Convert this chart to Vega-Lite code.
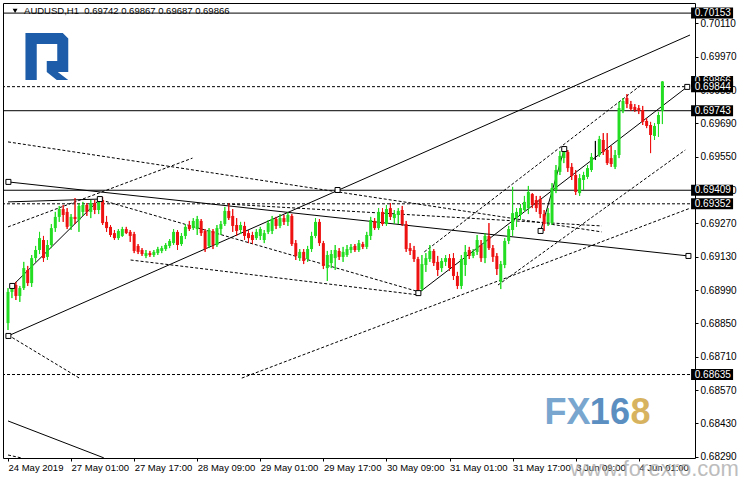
{
"$schema": "https://vega.github.io/schema/vega-lite/v6.json",
"width": 692, "height": 455,
"autosize": "none",
"padding": {"left": 3, "top": 3, "right": 45, "bottom": 22},
"background": "white",
"config": {"view": {"stroke": "black", "strokeWidth": 1}, "font": "Liberation Sans",
 "axis": {"labelOverlap": false, "labelSeparation": 0, "labelBound": false, "labelFlush": false},
 "axisY": {"labelOverlap": false}, "axisX": {"labelOverlap": false}},
"datasets": {
"candles": [
{"i":0,"o":0.68851,"h":0.68998,"l":0.68822,"c":0.68982},
{"i":1,"o":0.68982,"h":0.69019,"l":0.68956,"c":0.69003},
{"i":2,"o":0.69011,"h":0.69024,"l":0.68948,"c":0.68965},
{"i":3,"o":0.68965,"h":0.69007,"l":0.68940,"c":0.68998},
{"i":4,"o":0.68998,"h":0.69108,"l":0.68990,"c":0.69082},
{"i":5,"o":0.69074,"h":0.69091,"l":0.69007,"c":0.69019},
{"i":6,"o":0.69019,"h":0.69137,"l":0.69003,"c":0.69124},
{"i":7,"o":0.69124,"h":0.69175,"l":0.69108,"c":0.69158},
{"i":8,"o":0.69158,"h":0.69234,"l":0.69141,"c":0.69208},
{"i":9,"o":0.69200,"h":0.69217,"l":0.69108,"c":0.69124},
{"i":10,"o":0.69129,"h":0.69200,"l":0.69116,"c":0.69179},
{"i":11,"o":0.69179,"h":0.69267,"l":0.69166,"c":0.69250},
{"i":12,"o":0.69250,"h":0.69318,"l":0.69234,"c":0.69297},
{"i":13,"o":0.69297,"h":0.69343,"l":0.69276,"c":0.69330},
{"i":14,"o":0.69330,"h":0.69347,"l":0.69276,"c":0.69305},
{"i":15,"o":0.69318,"h":0.69334,"l":0.69246,"c":0.69255},
{"i":16,"o":0.69259,"h":0.69309,"l":0.69242,"c":0.69297},
{"i":17,"o":0.69297,"h":0.69376,"l":0.69267,"c":0.69288},
{"i":18,"o":0.69284,"h":0.69355,"l":0.69234,"c":0.69343},
{"i":19,"o":0.69318,"h":0.69360,"l":0.69301,"c":0.69347},
{"i":20,"o":0.69347,"h":0.69355,"l":0.69301,"c":0.69318},
{"i":21,"o":0.69318,"h":0.69368,"l":0.69292,"c":0.69355},
{"i":22,"o":0.69355,"h":0.69368,"l":0.69309,"c":0.69326},
{"i":23,"o":0.69326,"h":0.69385,"l":0.69309,"c":0.69372},
{"i":24,"o":0.69368,"h":0.69381,"l":0.69263,"c":0.69271},
{"i":25,"o":0.69276,"h":0.69301,"l":0.69234,"c":0.69250},
{"i":26,"o":0.69255,"h":0.69263,"l":0.69213,"c":0.69221},
{"i":27,"o":0.69229,"h":0.69242,"l":0.69200,"c":0.69208},
{"i":28,"o":0.69208,"h":0.69246,"l":0.69200,"c":0.69238},
{"i":29,"o":0.69217,"h":0.69255,"l":0.69213,"c":0.69246},
{"i":30,"o":0.69246,"h":0.69255,"l":0.69225,"c":0.69229},
{"i":31,"o":0.69234,"h":0.69242,"l":0.69192,"c":0.69217},
{"i":32,"o":0.69225,"h":0.69234,"l":0.69145,"c":0.69154},
{"i":33,"o":0.69175,"h":0.69183,"l":0.69141,"c":0.69150},
{"i":34,"o":0.69158,"h":0.69166,"l":0.69133,"c":0.69141},
{"i":35,"o":0.69133,"h":0.69158,"l":0.69124,"c":0.69145},
{"i":36,"o":0.69145,"h":0.69154,"l":0.69129,"c":0.69137},
{"i":37,"o":0.69137,"h":0.69158,"l":0.69129,"c":0.69150},
{"i":38,"o":0.69145,"h":0.69171,"l":0.69137,"c":0.69162},
{"i":39,"o":0.69154,"h":0.69175,"l":0.69145,"c":0.69166},
{"i":40,"o":0.69162,"h":0.69187,"l":0.69154,"c":0.69179},
{"i":41,"o":0.69175,"h":0.69204,"l":0.69166,"c":0.69196},
{"i":42,"o":0.69187,"h":0.69246,"l":0.69179,"c":0.69234},
{"i":43,"o":0.69234,"h":0.69242,"l":0.69158,"c":0.69179},
{"i":44,"o":0.69183,"h":0.69229,"l":0.69175,"c":0.69217},
{"i":45,"o":0.69217,"h":0.69267,"l":0.69204,"c":0.69255},
{"i":46,"o":0.69263,"h":0.69280,"l":0.69238,"c":0.69246},
{"i":47,"o":0.69250,"h":0.69292,"l":0.69242,"c":0.69280},
{"i":48,"o":0.69246,"h":0.69301,"l":0.69221,"c":0.69288},
{"i":49,"o":0.69280,"h":0.69288,"l":0.69217,"c":0.69229},
{"i":50,"o":0.69238,"h":0.69246,"l":0.69150,"c":0.69162},
{"i":51,"o":0.69175,"h":0.69250,"l":0.69166,"c":0.69242},
{"i":52,"o":0.69238,"h":0.69246,"l":0.69162,"c":0.69179},
{"i":53,"o":0.69179,"h":0.69263,"l":0.69171,"c":0.69250},
{"i":54,"o":0.69246,"h":0.69280,"l":0.69221,"c":0.69267},
{"i":55,"o":0.69267,"h":0.69339,"l":0.69259,"c":0.69322},
{"i":56,"o":0.69322,"h":0.69355,"l":0.69284,"c":0.69292},
{"i":57,"o":0.69301,"h":0.69330,"l":0.69234,"c":0.69259},
{"i":58,"o":0.69263,"h":0.69292,"l":0.69217,"c":0.69238},
{"i":59,"o":0.69242,"h":0.69276,"l":0.69225,"c":0.69263},
{"i":60,"o":0.69259,"h":0.69276,"l":0.69200,"c":0.69217},
{"i":61,"o":0.69229,"h":0.69242,"l":0.69187,"c":0.69208},
{"i":62,"o":0.69221,"h":0.69234,"l":0.69183,"c":0.69200},
{"i":63,"o":0.69208,"h":0.69246,"l":0.69200,"c":0.69234},
{"i":64,"o":0.69217,"h":0.69255,"l":0.69200,"c":0.69246},
{"i":65,"o":0.69200,"h":0.69242,"l":0.69187,"c":0.69229},
{"i":66,"o":0.69234,"h":0.69284,"l":0.69225,"c":0.69271},
{"i":67,"o":0.69238,"h":0.69301,"l":0.69225,"c":0.69288},
{"i":68,"o":0.69288,"h":0.69297,"l":0.69246,"c":0.69259},
{"i":69,"o":0.69259,"h":0.69309,"l":0.69250,"c":0.69292},
{"i":70,"o":0.69292,"h":0.69305,"l":0.69263,"c":0.69276},
{"i":71,"o":0.69276,"h":0.69318,"l":0.69259,"c":0.69305},
{"i":72,"o":0.69301,"h":0.69309,"l":0.69175,"c":0.69183},
{"i":73,"o":0.69187,"h":0.69200,"l":0.69116,"c":0.69133},
{"i":74,"o":0.69124,"h":0.69162,"l":0.69112,"c":0.69150},
{"i":75,"o":0.69150,"h":0.69162,"l":0.69099,"c":0.69112},
{"i":76,"o":0.69120,"h":0.69175,"l":0.69108,"c":0.69162},
{"i":77,"o":0.69162,"h":0.69234,"l":0.69150,"c":0.69217},
{"i":78,"o":0.69217,"h":0.69292,"l":0.69208,"c":0.69276},
{"i":79,"o":0.69276,"h":0.69288,"l":0.69175,"c":0.69187},
{"i":80,"o":0.69187,"h":0.69196,"l":0.69078,"c":0.69091},
{"i":81,"o":0.69082,"h":0.69154,"l":0.69028,"c":0.69137},
{"i":82,"o":0.69103,"h":0.69158,"l":0.69082,"c":0.69141},
{"i":83,"o":0.69124,"h":0.69179,"l":0.69074,"c":0.69158},
{"i":84,"o":0.69154,"h":0.69166,"l":0.69116,"c":0.69129},
{"i":85,"o":0.69129,"h":0.69171,"l":0.69108,"c":0.69150},
{"i":86,"o":0.69137,"h":0.69179,"l":0.69129,"c":0.69162},
{"i":87,"o":0.69158,"h":0.69183,"l":0.69145,"c":0.69171},
{"i":88,"o":0.69175,"h":0.69183,"l":0.69150,"c":0.69158},
{"i":89,"o":0.69158,"h":0.69200,"l":0.69150,"c":0.69187},
{"i":90,"o":0.69183,"h":0.69192,"l":0.69162,"c":0.69171},
{"i":91,"o":0.69171,"h":0.69234,"l":0.69162,"c":0.69221},
{"i":92,"o":0.69217,"h":0.69297,"l":0.69200,"c":0.69284},
{"i":93,"o":0.69280,"h":0.69292,"l":0.69242,"c":0.69250},
{"i":94,"o":0.69250,"h":0.69334,"l":0.69242,"c":0.69318},
{"i":95,"o":0.69318,"h":0.69334,"l":0.69259,"c":0.69267},
{"i":96,"o":0.69267,"h":0.69347,"l":0.69259,"c":0.69330},
{"i":97,"o":0.69334,"h":0.69355,"l":0.69284,"c":0.69297},
{"i":98,"o":0.69292,"h":0.69326,"l":0.69267,"c":0.69309},
{"i":99,"o":0.69305,"h":0.69334,"l":0.69267,"c":0.69322},
{"i":100,"o":0.69326,"h":0.69343,"l":0.69259,"c":0.69267},
{"i":101,"o":0.69267,"h":0.69280,"l":0.69150,"c":0.69162},
{"i":102,"o":0.69166,"h":0.69187,"l":0.69137,"c":0.69154},
{"i":103,"o":0.69158,"h":0.69175,"l":0.69108,"c":0.69120},
{"i":104,"o":0.69120,"h":0.69129,"l":0.68982,"c":0.68990},
{"i":105,"o":0.68994,"h":0.69137,"l":0.68986,"c":0.69099},
{"i":106,"o":0.69095,"h":0.69145,"l":0.69066,"c":0.69124},
{"i":107,"o":0.69120,"h":0.69179,"l":0.69108,"c":0.69154},
{"i":108,"o":0.69154,"h":0.69162,"l":0.69091,"c":0.69103},
{"i":109,"o":0.69108,"h":0.69133,"l":0.69049,"c":0.69074},
{"i":110,"o":0.69082,"h":0.69124,"l":0.69066,"c":0.69112},
{"i":111,"o":0.69108,"h":0.69137,"l":0.69091,"c":0.69124},
{"i":112,"o":0.69124,"h":0.69141,"l":0.69070,"c":0.69082},
{"i":113,"o":0.69124,"h":0.69145,"l":0.69032,"c":0.69049},
{"i":114,"o":0.69049,"h":0.69066,"l":0.68994,"c":0.69007},
{"i":115,"o":0.69007,"h":0.69137,"l":0.68994,"c":0.69120},
{"i":116,"o":0.69095,"h":0.69179,"l":0.69049,"c":0.69150},
{"i":117,"o":0.69158,"h":0.69171,"l":0.69120,"c":0.69133},
{"i":118,"o":0.69133,"h":0.69162,"l":0.69124,"c":0.69150},
{"i":119,"o":0.69150,"h":0.69221,"l":0.69137,"c":0.69200},
{"i":120,"o":0.69179,"h":0.69200,"l":0.69108,"c":0.69124},
{"i":121,"o":0.69124,"h":0.69229,"l":0.69103,"c":0.69217},
{"i":122,"o":0.69217,"h":0.69271,"l":0.69158,"c":0.69166},
{"i":123,"o":0.69166,"h":0.69179,"l":0.69108,"c":0.69129},
{"i":124,"o":0.69133,"h":0.69145,"l":0.69053,"c":0.69078},
{"i":125,"o":0.69024,"h":0.69112,"l":0.68994,"c":0.69099},
{"i":126,"o":0.69095,"h":0.69208,"l":0.69082,"c":0.69196},
{"i":127,"o":0.69196,"h":0.69259,"l":0.69183,"c":0.69246},
{"i":128,"o":0.69242,"h":0.69423,"l":0.69217,"c":0.69313},
{"i":129,"o":0.69292,"h":0.69334,"l":0.69255,"c":0.69318},
{"i":130,"o":0.69305,"h":0.69351,"l":0.69284,"c":0.69334},
{"i":131,"o":0.69326,"h":0.69385,"l":0.69318,"c":0.69360},
{"i":132,"o":0.69334,"h":0.69427,"l":0.69309,"c":0.69402},
{"i":133,"o":0.69393,"h":0.69397,"l":0.69334,"c":0.69347},
{"i":134,"o":0.69368,"h":0.69385,"l":0.69318,"c":0.69334},
{"i":135,"o":0.69372,"h":0.69385,"l":0.69292,"c":0.69309},
{"i":136,"o":0.69309,"h":0.69326,"l":0.69238,"c":0.69267},
{"i":137,"o":0.69276,"h":0.69334,"l":0.69259,"c":0.69313},
{"i":138,"o":0.69271,"h":0.69439,"l":0.69263,"c":0.69418},
{"i":139,"o":0.69410,"h":0.69515,"l":0.69397,"c":0.69494},
{"i":140,"o":0.69486,"h":0.69574,"l":0.69473,"c":0.69553},
{"i":141,"o":0.69544,"h":0.69586,"l":0.69523,"c":0.69578},
{"i":142,"o":0.69570,"h":0.69578,"l":0.69486,"c":0.69502},
{"i":143,"o":0.69507,"h":0.69523,"l":0.69452,"c":0.69469},
{"i":144,"o":0.69473,"h":0.69494,"l":0.69389,"c":0.69402},
{"i":145,"o":0.69397,"h":0.69477,"l":0.69385,"c":0.69460},
{"i":146,"o":0.69452,"h":0.69486,"l":0.69410,"c":0.69473},
{"i":147,"o":0.69465,"h":0.69515,"l":0.69456,"c":0.69502},
{"i":148,"o":0.69494,"h":0.69565,"l":0.69486,"c":0.69549},
{"i":149,"o":0.69553,"h":0.69616,"l":0.69536,"c":0.69553},
{"i":150,"o":0.69557,"h":0.69637,"l":0.69549,"c":0.69624},
{"i":151,"o":0.69620,"h":0.69649,"l":0.69557,"c":0.69570},
{"i":152,"o":0.69578,"h":0.69649,"l":0.69515,"c":0.69523},
{"i":153,"o":0.69544,"h":0.69595,"l":0.69507,"c":0.69519},
{"i":154,"o":0.69507,"h":0.69578,"l":0.69498,"c":0.69557},
{"i":155,"o":0.69557,"h":0.69780,"l":0.69544,"c":0.69754},
{"i":156,"o":0.69742,"h":0.69796,"l":0.69733,"c":0.69784},
{"i":157,"o":0.69796,"h":0.69813,"l":0.69754,"c":0.69771},
{"i":158,"o":0.69771,"h":0.69784,"l":0.69742,"c":0.69750},
{"i":159,"o":0.69759,"h":0.69771,"l":0.69738,"c":0.69746},
{"i":160,"o":0.69754,"h":0.69767,"l":0.69729,"c":0.69742},
{"i":161,"o":0.69746,"h":0.69763,"l":0.69683,"c":0.69696},
{"i":162,"o":0.69700,"h":0.69712,"l":0.69670,"c":0.69679},
{"i":163,"o":0.69683,"h":0.69696,"l":0.69565,"c":0.69641},
{"i":164,"o":0.69637,"h":0.69691,"l":0.69620,"c":0.69679},
{"i":165,"o":0.69687,"h":0.69738,"l":0.69633,"c":0.69725},
{"i":166,"o":0.69742,"h":0.69867,"l":0.69687,"c":0.69866}
],
"solid": [
{"id":"s1","i":0,"p":0.68797},{"id":"s1","i":173,"p":0.70061},
{"id":"s2","i":0,"p":0.69444},{"id":"s2","i":172.6,"p":0.69133},
{"id":"s3","i":104.1,"p":0.68977},{"id":"s3","i":172.3,"p":0.69843},
{"id":"s4","i":1.07,"p":0.69007},{"id":"s4","i":23.3,"p":0.69372},
{"id":"s5","i":135.1,"p":0.69238},{"id":"s5","i":141.1,"p":0.69582},
{"id":"s6","i":0,"p":0.68440},{"id":"s6","i":24.3,"p":0.68285},
{"id":"s7","i":0,"p":0.69360},{"id":"s7","i":23.3,"p":0.69372}
],
"dashed": [
{"id":"d1","i":0,"p":0.69612},{"id":"d1","i":150.6,"p":0.69234},
{"id":"d2","i":0,"p":0.69255},{"id":"d2","i":46.8,"p":0.69544},
{"id":"d3","i":0,"p":0.68801},{"id":"d3","i":18.1,"p":0.68620},
{"id":"d4","i":23.6,"p":0.69368},{"id":"d4","i":104.3,"p":0.68982},
{"id":"d5","i":31.1,"p":0.69116},{"id":"d5","i":104.3,"p":0.68969},
{"id":"d6","i":55.6,"p":0.69351},{"id":"d6","i":150.6,"p":0.69259},
{"id":"d7","i":105.6,"p":0.69150},{"id":"d7","i":160.6,"p":0.69851},
{"id":"d8","i":124.3,"p":0.69011},{"id":"d8","i":171.8,"p":0.69578},
{"id":"d9","i":59.3,"p":0.68620},{"id":"d9","i":173.1,"p":0.69334},
{"id":"d10","i":0,"p":0.68297},{"id":"d10","i":3.6,"p":0.68284}
],
"hsolid": [{"p":0.70153},{"p":0.69743},{"p":0.69409}],
"hdashed": [{"p":0.69844},{"p":0.69352},{"p":0.68635}],
"anchors": [
{"i":0.1,"p":0.69444},{"i":83.6,"p":0.69410},{"i":0.1,"p":0.68797},
{"i":1.07,"p":0.69007},{"i":23.3,"p":0.69372},{"i":104.1,"p":0.68977},
{"i":135.1,"p":0.69238},{"i":141.1,"p":0.69582},{"i":172.3,"p":0.69843},
{"i":172.6,"p":0.69133}
],
"levels": [{"p":0.70153},{"p":0.69866},{"p":0.69743},{"p":0.69409},{"p":0.69352},{"p":0.68635}],
"levelTop": [{"p":0.69844}]
},
"layer": [
{"data":{"name":"candles"},"mark":{"type":"rule","strokeWidth":1},
 "encoding":{
  "x":{"field":"i","type":"quantitative","scale":{"domain":[0,173],"nice":false,"zero":false},
   "axis":{"title":null,"values":[0,16,32,48,64,80,96,112,128,144,160],"tickCount":30,
    "labelExpr":"['24 May 2019','27 May 01:00','27 May 17:00','28 May 09:00','29 May 01:00','29 May 17:00','30 May 09:00','31 May 01:00','31 May 17:00','3 Jun 09:00','4 Jun 01:00'][round(datum.value/16)]",
    "labelAlign":"left","labelBaseline":"top","labelPadding":1,"labelFont":"Liberation Sans","labelFontSize":9.5,"labelColor":"black","tickSize":3,"tickColor":"black","domain":false,"grid":false,"labelOverlap":false,"labelFlush":false,"labelBound":false}},
  "y":{"field":"l","type":"quantitative","scale":{"domain":[0.682844,0.701954],"nice":false,"zero":false},
   "axis":{"title":null,"orient":"right","values":[0.6829,0.6843,0.6857,0.6871,0.6885,0.6899,0.6913,0.6927,0.6941,0.6955,0.6969,0.6983,0.6997,0.7011],"tickCount":30,
    "format":".5f","labelFont":"Liberation Sans","labelFontSize":10,"labelColor":"black","tickSize":3,"tickColor":"black","labelPadding":2,"domain":false,"grid":false,"labelOverlap":false,"labelFlush":false,"labelBound":false}},
  "y2":{"field":"h"},
  "color":{"condition":[{"test":"datum.c == datum.o","value":"#000000"},{"test":"datum.c > datum.o","value":"#22dd22"}],"value":"#ee1111"}
 }},
{"data":{"values":[{}]},"mark":{"type":"text","text":"www.forexro.com","font":"Liberation Sans","fontSize":22,"color":"#a8a8a8","opacity":0.75,"align":"left","baseline":"alphabetic"},
 "encoding":{"x":{"datum":142.6,"type":"quantitative"},"y":{"datum":0.68209,"type":"quantitative"}}},
{"data":{"values":[{}]},"mark":{"type":"text","text":"FX","font":"Liberation Sans","fontSize":36,"fontWeight":"bold","color":"#79a6cf","align":"left","baseline":"alphabetic"},
 "encoding":{"x":{"datum":136.1,"type":"quantitative"},"y":{"datum":0.68427,"type":"quantitative"}}},
{"data":{"values":[{}]},"mark":{"type":"text","text":"16","font":"Liberation Sans","fontSize":36,"fontWeight":"bold","color":"#5b8fc1","align":"left","baseline":"alphabetic"},
 "encoding":{"x":{"datum":147.6,"type":"quantitative"},"y":{"datum":0.68427,"type":"quantitative"}}},
{"data":{"values":[{}]},"mark":{"type":"text","text":"8","font":"Liberation Sans","fontSize":36,"fontWeight":"bold","color":"#d8b35f","align":"left","baseline":"alphabetic"},
 "encoding":{"x":{"datum":157.9,"type":"quantitative"},"y":{"datum":0.68427,"type":"quantitative"}}},
{"data":{"values":[{}]},"mark":{"type":"point","shape":"M-0.906,-1L0.681,-1L0.915,-0.766L0.915,0.66L0,0.66L0,0.191L0.447,0.191L0.447,-0.532L-0.426,-0.532L-0.426,1L-0.906,1ZM0,0.66L0.468,0.66L0.915,1L0.426,1Z","filled":true,"fill":"#1d5ca8","opacity":1,"size":2209,"strokeWidth":0},
 "encoding":{"x":{"datum":9.83,"type":"quantitative"},"y":{"datum":0.69971,"type":"quantitative"}}},
{"data":{"values":[{}]},"mark":{"type":"point","shape":"triangle-down","filled":true,"fill":"black","opacity":1,"size":24,"strokeWidth":0},
 "encoding":{"x":{"datum":1.8,"type":"quantitative"},"y":{"datum":0.70162,"type":"quantitative"}}},
{"data":{"values":[{}]},"mark":{"type":"text","text":"AUDUSD,H1\u00a0\u00a00.69742 0.69867 0.69687 0.69866","font":"Liberation Sans","fontSize":9.5,"color":"black","align":"left","baseline":"middle"},
 "encoding":{"x":{"datum":4.07,"type":"quantitative"},"y":{"datum":0.70162,"type":"quantitative"}}},
{"data":{"name":"hsolid"},"mark":{"type":"rule","color":"black","strokeWidth":1},
 "encoding":{"y":{"field":"p","type":"quantitative"}}},
{"data":{"name":"hdashed"},"mark":{"type":"rule","color":"black","strokeWidth":1,"strokeDash":[3,2]},
 "encoding":{"y":{"field":"p","type":"quantitative"}}},
{"data":{"name":"solid"},"mark":{"type":"line","color":"black","strokeWidth":1,"clip":true},
 "encoding":{"x":{"field":"i","type":"quantitative"},"y":{"field":"p","type":"quantitative"},"detail":{"field":"id"}}},
{"data":{"name":"dashed"},"mark":{"type":"line","color":"black","strokeWidth":1,"strokeDash":[3,2],"clip":true},
 "encoding":{"x":{"field":"i","type":"quantitative"},"y":{"field":"p","type":"quantitative"},"detail":{"field":"id"}}},
{"data":{"name":"candles"},"mark":{"type":"rule","strokeWidth":1},
 "encoding":{
  "x":{"field":"i","type":"quantitative"},
  "y":{"field":"l","type":"quantitative"},
  "y2":{"field":"h"},
  "color":{"condition":[{"test":"datum.c == datum.o","value":"#000000"},{"test":"datum.c > datum.o","value":"#22dd22"}],"value":"#ee1111"}
 }},
{"data":{"name":"candles"},"mark":{"type":"bar","width":3},
 "encoding":{
  "x":{"field":"i","type":"quantitative"},
  "y":{"field":"o","type":"quantitative"},
  "y2":{"field":"c"},
  "color":{"condition":[{"test":"datum.c == datum.o","value":"#000000"},{"test":"datum.c > datum.o","value":"#22dd22"}],"value":"#ee1111"}
 }},
{"data":{"name":"anchors"},"mark":{"type":"point","shape":"square","size":25,"filled":true,"fill":"white","stroke":"black","strokeWidth":1,"opacity":1},
 "encoding":{"x":{"field":"i","type":"quantitative"},"y":{"field":"p","type":"quantitative"}}},
{"data":{"name":"levels"},"mark":{"type":"point","shape":"M-1,-0.262L1,-0.262L1,0.262L-1,0.262Z","size":1764,"filled":true,"fill":"black","strokeWidth":0,"opacity":1},
 "encoding":{"x":{"datum":178.6,"type":"quantitative"},"y":{"field":"p","type":"quantitative"}}},
{"data":{"name":"levels"},"mark":{"type":"text","font":"Liberation Sans","fontSize":10,"color":"white","align":"left","baseline":"middle"},
 "encoding":{"x":{"datum":174.2,"type":"quantitative"},"y":{"field":"p","type":"quantitative"},"text":{"field":"p","type":"quantitative","format":".5f"}}},
{"data":{"name":"levelTop"},"mark":{"type":"point","shape":"M-1,-0.262L1,-0.262L1,0.262L-1,0.262Z","size":1764,"filled":true,"fill":"black","strokeWidth":0,"opacity":1},
 "encoding":{"x":{"datum":178.6,"type":"quantitative"},"y":{"field":"p","type":"quantitative"}}},
{"data":{"name":"levelTop"},"mark":{"type":"text","font":"Liberation Sans","fontSize":10,"color":"white","align":"left","baseline":"middle"},
 "encoding":{"x":{"datum":174.2,"type":"quantitative"},"y":{"field":"p","type":"quantitative"},"text":{"field":"p","type":"quantitative","format":".5f"}}}
]
}
